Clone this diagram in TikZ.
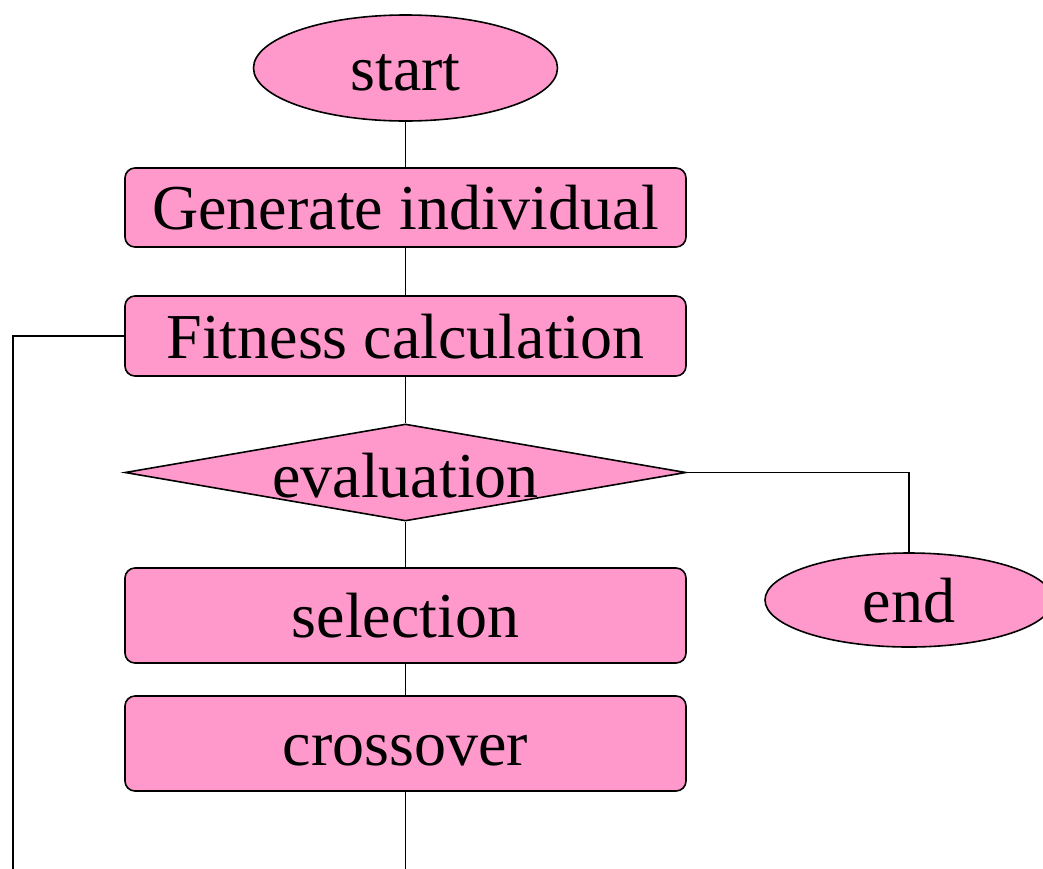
\documentclass[tikz,border=0pt]{standalone}
\usepackage{fontspec}
\setmainfont{Liberation Serif}
\usetikzlibrary{shapes.geometric}
\definecolor{boxpink}{HTML}{FF99CC}
\begin{document}
\begin{tikzpicture}[x=1pt,y=-1pt,
  every node/.style={inner sep=0pt, font=\fontsize{64}{70}\selectfont, text height=44pt, text depth=0pt},
  stepbox/.style={draw, line width=1.6pt, fill=boxpink, rounded corners=10pt, minimum width=561pt},
  terminal/.style={draw, line width=1.6pt, fill=boxpink, ellipse},
  decision/.style={draw, line width=1.6pt, fill=boxpink, diamond, minimum width=561pt, minimum height=97pt},
  link/.style={line width=1.3pt}]
\useasboundingbox (0,0) rectangle (1043,868);
\clip (0,0) rectangle (1043,868);
% flow nodes
\node[terminal, minimum width=304pt, minimum height=106pt] (start) at (405.5,68) {start};
\node[stepbox, minimum height=79pt] (gen) at (405.5,207.5) {Generate individual};
\node[stepbox, minimum height=80pt] (fit) at (405.5,336) {Fitness calculation};
\node[decision] (eval) at (405.5,472.5) {\makebox[0pt]{\raisebox{-3pt}{evaluation}}};
\node[stepbox, minimum height=95pt] (sel) at (405.5,615.5) {selection};
\node[stepbox, minimum height=95pt] (cross) at (405.5,743.5) {crossover};
\node[terminal, minimum width=288pt, minimum height=94pt] (end) at (909,600) {end};
% loose ends of the connectors
\coordinate (crossout) at (405.5,875);
\coordinate (loopcorner) at (13,336);
\coordinate (loopout) at (13,875);
\coordinate (endcorner) at (909,472.5);
% connectors
\draw[link] (start) -- (gen);
\draw[link] (gen) -- (fit);
\draw[link] (fit) -- (eval);
\draw[link] (eval) -- (sel);
\draw[link] (sel) -- (cross);
\draw[link] (cross) -- (crossout);
\draw[link] (fit.west) -- (loopcorner) -- (loopout);
\draw[link] (eval.east) -- (endcorner) -- (end.north);
\end{tikzpicture}
\end{document}
